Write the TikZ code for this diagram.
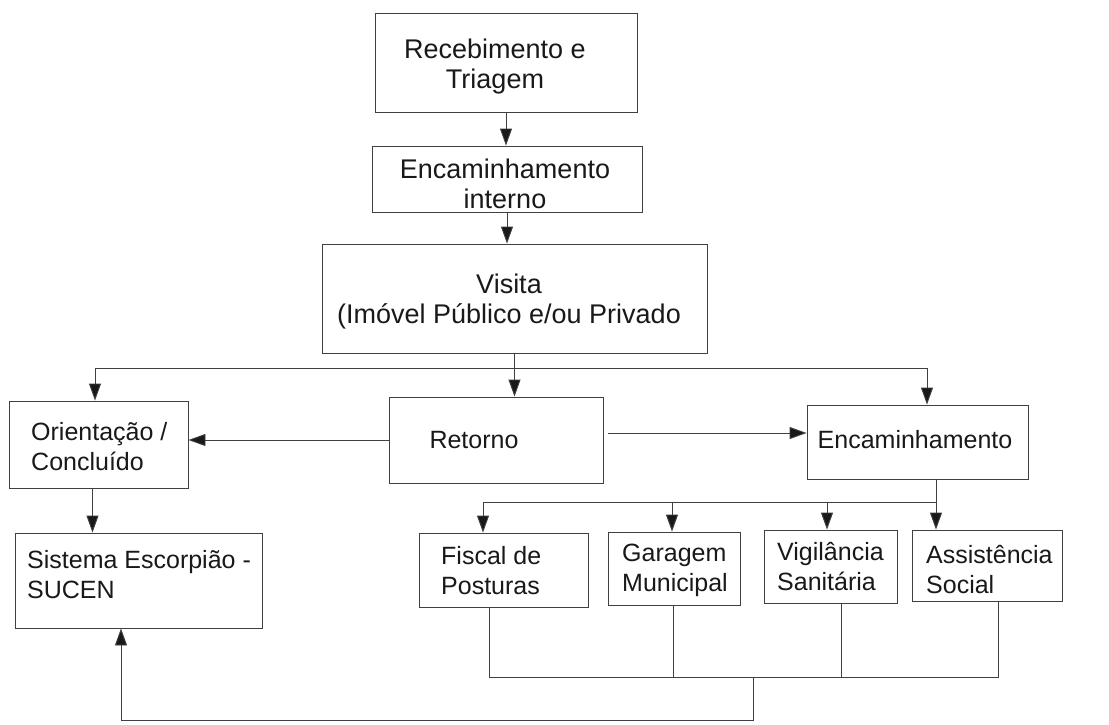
\documentclass[tikz,border=0pt]{standalone}
\usepackage{fontspec}
\setmainfont{Liberation Sans}
\usetikzlibrary{arrows.meta,calc}
\begin{document}
\begin{tikzpicture}[x=1pt,y=-1pt,
  box/.style={draw=black!75,line width=0.9pt,inner sep=0pt,rectangle},
  big/.style={font=\fontsize{27pt}{30pt}\selectfont,align=center,text=black!90,inner sep=0pt},
  sml/.style={font=\fontsize{25pt}{30pt}\selectfont,align=left,text=black!90,inner sep=0pt,anchor=west},
  smlc/.style={font=\fontsize{25pt}{30pt}\selectfont,align=center,text=black!90,inner sep=0pt},
  ln/.style={draw=black!75,line width=0.9pt},
  arr/.style={ln,-{Triangle[length=17pt,width=12pt,fill=black!90]}}]
\useasboundingbox (0,0) rectangle (1109,724);
\fill[white] (0,0) rectangle (1109,724);
% boxes
\node[box,minimum width=262pt,minimum height=99pt] (rec) at (506,62.5) {};
\node[box,minimum width=270pt,minimum height=66pt] (enc1) at (507,179) {};
\node[box,minimum width=385pt,minimum height=109pt] (vis) at (514.5,298.5) {};
\node[box,minimum width=179pt,minimum height=87pt] (ori) at (98.5,444.5) {};
\node[box,minimum width=214pt,minimum height=86pt] (ret) at (496,440) {};
\node[box,minimum width=221pt,minimum height=74pt] (enc2) at (917.5,442) {};
\node[box,minimum width=247pt,minimum height=95pt] (sis) at (138.5,580.5) {};
\node[box,minimum width=169pt,minimum height=74pt] (fis) at (503.5,570) {};
\node[box,minimum width=132pt,minimum height=73pt] (gar) at (674,568.5) {};
\node[box,minimum width=133pt,minimum height=73pt] (vig) at (830.5,566.5) {};
\node[box,minimum width=150pt,minimum height=71pt] (ass) at (987,565.5) {};
% texts
\node[big] (recT) at (495,67) {Recebimento e\\Triagem};
\node[big] (enc1T) at (505,184) {Encaminhamento\\interno};
\node[big] (visT) at (509,302) {Visita\\(Imóvel Público e/ou Privado};
\node[sml] (oriT) at (31,447) {Orientação /\\Concluído};
\node[sml] (sisT) at (27,575) {Sistema Escorpião -\\SUCEN};
\node[smlc] (retT) at (474,440) {Retorno};
\node[smlc] (enc2T) at (915,440) {Encaminhamento};
\node[sml] (fisT) at (441,571) {Fiscal de\\Posturas};
\node[sml] (garT) at (622,570) {Garagem\\Municipal};
\node[sml] (vigT) at (777,567) {Vigilância\\Sanitária};
\node[sml] (assT) at (926,570) {Assistência\\Social};
% junction coordinates
\coordinate (bl) at (95,368);
\coordinate (br) at (927,368);
\coordinate (ej) at (936,502);
\coordinate (ejf) at (483,502);
\coordinate (ejg) at (672,502);
\coordinate (ejv) at (827,502);
\coordinate (cf) at (489,677);
\coordinate (cg) at (673,677);
\coordinate (cv) at (841,677);
\coordinate (ca) at (998,677);
\coordinate (cm) at (753,677);
\coordinate (cb) at (753,720);
\coordinate (cl) at (121,720);
\coordinate (rs) at (608,433);
% connectors
\draw[arr] (rec.south) -- (rec.south |- enc1.north);
\draw[arr] (enc1.south) -- (enc1.south |- vis.north);
\draw[arr] (vis.south) -- (vis.south |- ret.north);
\draw[ln] (bl) -- (br);
\draw[arr] (bl) -- (bl |- ori.north);
\draw[arr] (br) -- (br |- enc2.north);
\draw[arr] (ret.west) -- (ret.west -| ori.east);
\draw[arr] (rs) -- (rs -| enc2.west);
\draw[arr] ($(ori.south)+(-6,0)$) -- ($(ori.south |- sis.north)+(-6,0)$);
\draw[ln] (enc2.south -| ej) -- (ej) -- (ejf);
\draw[arr] (ejf) -- (ejf |- fis.north);
\draw[arr] (ejg) -- (ejg |- gar.north);
\draw[arr] (ejv) -- (ejv |- vig.north);
\draw[arr] (ej) -- (ej |- ass.north);
\draw[ln] (fis.south -| cf) -- (cf) -- (ca) -- (ass.south -| ca);
\draw[ln] (gar.south -| cg) -- (cg);
\draw[ln] (vig.south -| cv) -- (cv);
\draw[arr] (cm) -- (cb) -- (cl) -- (cl |- sis.south);
\end{tikzpicture}
\end{document}
